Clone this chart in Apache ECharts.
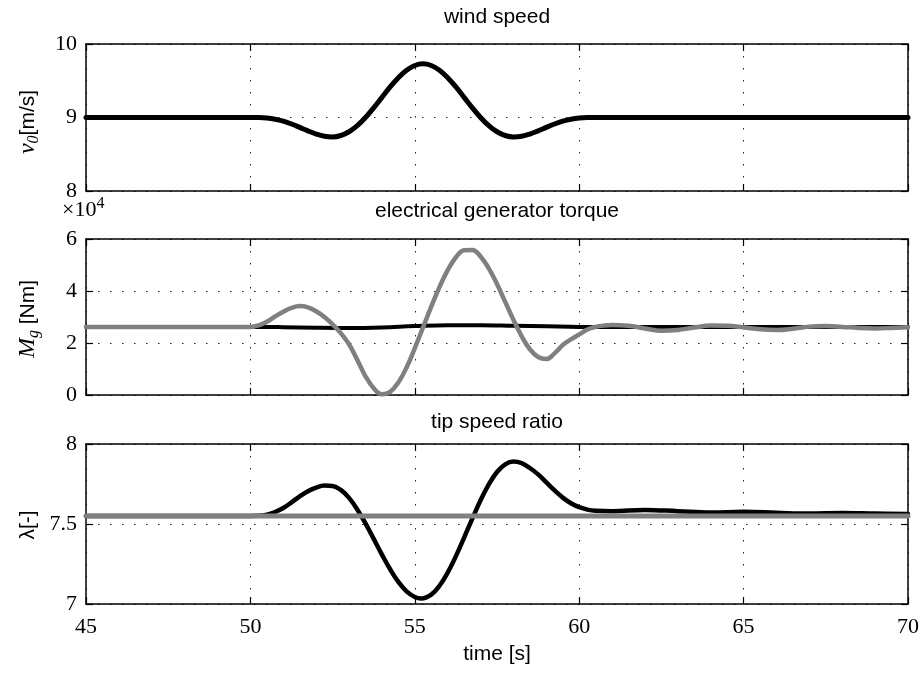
<!DOCTYPE html>
<html>
<head>
<meta charset="utf-8">
<script src="https://cdn.jsdelivr.net/npm/echarts@6/dist/echarts.min.js"></script>
<style>html,body{margin:0;padding:0;background:#fff}#c{width:922px;height:675px}</style>
</head>
<body>
<div id="c"></div>
<script>
// ---------- data ----------
const xTicks = [45, 50, 55, 60, 65, 70];
const titles = ['wind speed', 'electrical generator torque', 'tip speed ratio'];

// wind speed v0 [m/s]
const windT = [45, 50, 50.25, 50.5, 50.75, 51, 51.25, 51.5, 51.75, 52, 52.25, 52.5, 52.75, 53, 53.25, 53.5, 53.75, 54, 54.25, 54.5, 54.75, 55, 55.25,
  55.5, 55.75, 56, 56.25, 56.5, 56.75, 57, 57.25, 57.5, 57.75, 58, 58.25, 58.5, 58.75, 59, 59.25, 59.5, 59.75, 60, 60.25, 60.5, 70];
const windV = [9, 9, 8.999, 8.993, 8.977, 8.95, 8.912, 8.866, 8.818, 8.774, 8.744, 8.736, 8.755, 8.806, 8.889, 9.0, 9.132, 9.274, 9.416, 9.542, 9.643, 9.708, 9.73,
  9.708, 9.643, 9.542, 9.416, 9.274, 9.132, 9.0, 8.889, 8.806, 8.755, 8.736, 8.744, 8.774, 8.818, 8.866, 8.912, 8.95, 8.977, 8.993, 8.999, 9, 9];

// generator torque (x1e4 Nm) - black
const torqueBlackT = [45, 50, 51, 52, 53, 54, 55, 56, 57, 58, 59, 60, 62, 65, 70];
const torqueBlackV = [2.62, 2.62, 2.61, 2.59, 2.58, 2.6, 2.65, 2.68, 2.68, 2.66, 2.64, 2.62, 2.62, 2.62, 2.62];
// generator torque (x1e4 Nm) - grey
const torqueGreyT = [45, 50, 50.25, 50.5, 50.75, 51, 51.25, 51.5, 51.75, 52, 52.25, 52.5, 52.75, 53, 53.25, 53.5, 53.75, 54, 54.25, 54.5, 54.75,
  55, 55.25, 55.5, 55.75, 56, 56.25, 56.5, 56.75, 57, 57.25, 57.5, 57.75, 58, 58.25, 58.5, 58.75, 59, 59.25, 59.5, 59.75,
  60, 60.25, 60.5, 60.75, 61, 61.5, 62, 62.5, 63, 63.5, 64, 64.5, 65, 65.5, 66, 66.5, 67, 67.5, 68, 68.5, 69, 69.5, 70];
const torqueGreyV = [2.62, 2.62, 2.68, 2.82, 3.02, 3.2, 3.35, 3.42, 3.37, 3.22, 3.0, 2.72, 2.38, 1.95, 1.35, 0.72, 0.26, 0.03, 0.12, 0.48, 1.06,
  1.8, 2.6, 3.4, 4.15, 4.8, 5.3, 5.57, 5.58, 5.33, 4.87, 4.27, 3.58, 2.89, 2.26, 1.76, 1.46, 1.38, 1.6, 1.92, 2.14,
  2.33, 2.52, 2.62, 2.67, 2.69, 2.66, 2.56, 2.47, 2.5, 2.6, 2.67, 2.66, 2.6, 2.53, 2.5, 2.55, 2.63, 2.65, 2.62, 2.58, 2.56, 2.58, 2.61];

// tip speed ratio - black
const tsrBlackT = [45, 50, 50.25, 50.5, 50.75, 51, 51.25, 51.5, 51.75, 52, 52.25, 52.5, 52.75, 53, 53.25, 53.5, 53.75, 54, 54.25, 54.5, 54.75, 55, 55.2,
  55.5, 55.75, 56, 56.25, 56.5, 56.75, 57, 57.25, 57.5, 57.75, 58, 58.25, 58.5, 58.75, 59, 59.25, 59.5, 59.75, 60, 60.25, 60.5,
  61, 62, 63, 64, 65, 66, 67, 68, 69, 70];
const tsrBlackV = [7.55, 7.55, 7.551, 7.558, 7.575, 7.6, 7.635, 7.673, 7.705, 7.728, 7.74, 7.738, 7.713, 7.663, 7.591, 7.504, 7.407, 7.309, 7.217, 7.138, 7.079, 7.044, 7.035,
  7.059, 7.114, 7.196, 7.299, 7.415, 7.534, 7.648, 7.747, 7.825, 7.873, 7.89, 7.88, 7.85, 7.81, 7.76, 7.71, 7.665, 7.63, 7.605, 7.59, 7.583,
  7.58, 7.588, 7.58, 7.572, 7.576, 7.57, 7.565, 7.568, 7.565, 7.563];
// tip speed ratio - grey
const tsrGreyT = [45, 70];
const tsrGreyV = [7.55, 7.55];

// y-axis ticks
const yTicks0 = [8, 9, 10];
const yTicks1 = [0, 2, 4, 6];
const yTicks2 = [7, 7.5, 8];

// ---------- chart ----------
const pairs = (t, v) => t.map((x, i) => [x, v[i]]);
const GRIDS = [
  {left: 86, right: 14, top: 44, height: 147},
  {left: 86, right: 14, top: 239, height: 156},
  {left: 86, right: 14, top: 444, height: 160}
];
const yTicks = [yTicks0, yTicks1, yTicks2];
const SERIF = '"Liberation Serif","DejaVu Serif",serif';
const SANS = '"Liberation Sans",Arial,sans-serif';
const dotted = {show: true, lineStyle: {color: '#222', width: 1, type: [1.5, 10.5]}};
const axLine = {show: true, onZero: false, lineStyle: {color: '#000', width: 1.5}};
const tick = {show: true, inside: true, length: 7, lineStyle: {color: '#000', width: 1.2}};

const xAxis = [], yAxis = [];
GRIDS.forEach((g, i) => {
  xAxis.push({
    gridIndex: i, type: 'value', min: xTicks[0], max: xTicks[xTicks.length - 1], interval: xTicks[1] - xTicks[0],
    position: 'bottom', axisLine: axLine, axisTick: tick, splitLine: dotted,
    axisLabel: {show: i === 2, color: '#000', fontFamily: SERIF, fontSize: 22, margin: 12},
    name: i === 2 ? 'time [s]' : '', nameLocation: 'middle', nameGap: 40,
    nameTextStyle: {color: '#000', fontFamily: SANS, fontSize: 21}
  });
  xAxis.push({
    gridIndex: i, type: 'value', min: xTicks[0], max: xTicks[xTicks.length - 1], interval: xTicks[1] - xTicks[0],
    position: 'top', axisLine: axLine, axisTick: tick, splitLine: {show: false}, axisLabel: {show: false}
  });
  const yt = yTicks[i];
  yAxis.push({
    gridIndex: i, type: 'value', min: yt[0], max: yt[yt.length - 1], interval: yt[1] - yt[0],
    position: 'left', axisLine: axLine, axisTick: tick, splitLine: dotted,
    axisLabel: {color: '#000', fontFamily: SERIF, fontSize: 22, margin: 9,
      formatter: v => String(v)}
  });
  yAxis.push({
    gridIndex: i, type: 'value', min: yt[0], max: yt[yt.length - 1], interval: yt[1] - yt[0],
    position: 'right', axisLine: axLine, axisTick: tick, splitLine: {show: false}, axisLabel: {show: false}
  });
});

const lineSeries = (gi, data, color, w) => ({
  type: 'line', xAxisIndex: gi * 2, yAxisIndex: gi * 2, data: data,
  smooth: 0.4, showSymbol: false, symbol: 'none', clip: true,
  lineStyle: {color: color, width: w, join: 'round', cap: 'round'}, silent: true, animation: false
});

const series = [
  lineSeries(0, pairs(windT, windV), '#000', 5),
  lineSeries(1, pairs(torqueBlackT, torqueBlackV), '#000', 4),
  lineSeries(1, pairs(torqueGreyT, torqueGreyV), '#808080', 4.5),
  lineSeries(2, pairs(tsrBlackT, tsrBlackV), '#000', 4.5),
  lineSeries(2, pairs(tsrGreyT, tsrGreyV), '#808080', 5)
];

const titleY = [17, 211, 422];
const graphic = titles.map((t, i) => ({
  type: 'text', x: 497, y: titleY[i],
  style: {text: t, fill: '#000', font: '21px ' + SANS, align: 'center', verticalAlign: 'middle'}
}));
const yNameStyle = {
  m: {fontFamily: SERIF, fontStyle: 'italic', fontSize: 24, fill: '#000'},
  s: {fontFamily: SERIF, fontStyle: 'italic', fontSize: 16, fill: '#000', padding: [12, 0, 0, 0]},
  t: {fontFamily: SANS, fontSize: 21, fill: '#000'}
};
const yNames = ['{m|v}{s|0}{t|[m/s]}', '{m|M}{s|g}{t| [Nm]}', '{t|λ[-]}'];
const yNameY = [122, 319, 525];
yNames.forEach((n, i) => graphic.push({
  type: 'text', x: 28, y: yNameY[i], rotation: Math.PI / 2,
  style: {text: n, rich: yNameStyle, align: 'center', verticalAlign: 'middle'}
}));
graphic.push({
  type: 'text', x: 62, y: 210,
  style: {text: '{a|×10}{b|4}', align: 'left', verticalAlign: 'middle',
    rich: {a: {fontFamily: SERIF, fontSize: 22, fill: '#000'},
           b: {fontFamily: SERIF, fontSize: 16, fill: '#000', padding: [0, 0, 13, 0]}}}
});

const chart = echarts.init(document.getElementById('c'), null, {renderer: 'canvas'});
chart.setOption({
  animation: false,
  backgroundColor: '#fff',
  grid: GRIDS,
  xAxis: xAxis,
  yAxis: yAxis,
  series: series,
  graphic: graphic
});
</script>
</body>
</html>
